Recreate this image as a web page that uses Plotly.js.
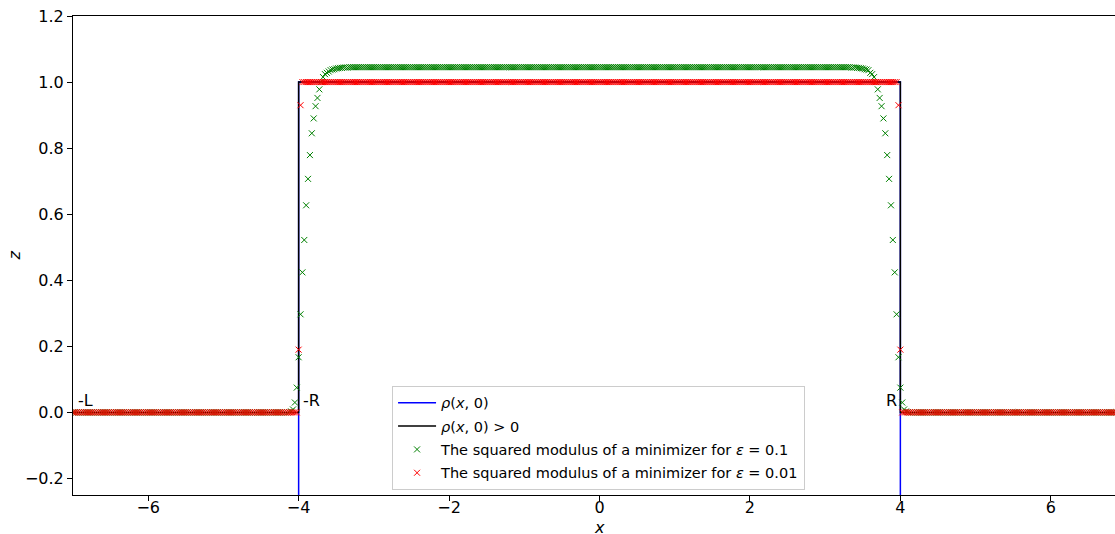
<!DOCTYPE html>
<html>
<head>
<meta charset="utf-8">
<script src="https://cdn.plot.ly/plotly-3.0.1.min.js"></script>
<style>
html, body { margin: 0; padding: 0; overflow: hidden; background: #ffffff; }
#chart { width: 1160px; height: 534px; }
</style>
</head>
<body>
<div id="chart"></div>
<script>
// x grid of the computed minimizers
const xGrid = [
-7,-6.975,-6.95,-6.925,-6.9,-6.875,-6.85,-6.825,
-6.8,-6.775,-6.75,-6.725,-6.7,-6.675,-6.65,-6.625,
-6.6,-6.575,-6.55,-6.525,-6.5,-6.475,-6.45,-6.425,
-6.4,-6.375,-6.35,-6.325,-6.3,-6.275,-6.25,-6.225,
-6.2,-6.175,-6.15,-6.125,-6.1,-6.075,-6.05,-6.025,
-6,-5.975,-5.95,-5.925,-5.9,-5.875,-5.85,-5.825,
-5.8,-5.775,-5.75,-5.725,-5.7,-5.675,-5.65,-5.625,
-5.6,-5.575,-5.55,-5.525,-5.5,-5.475,-5.45,-5.425,
-5.4,-5.375,-5.35,-5.325,-5.3,-5.275,-5.25,-5.225,
-5.2,-5.175,-5.15,-5.125,-5.1,-5.075,-5.05,-5.025,
-5,-4.975,-4.95,-4.925,-4.9,-4.875,-4.85,-4.825,
-4.8,-4.775,-4.75,-4.725,-4.7,-4.675,-4.65,-4.625,
-4.6,-4.575,-4.55,-4.525,-4.5,-4.475,-4.45,-4.425,
-4.4,-4.375,-4.35,-4.325,-4.3,-4.275,-4.25,-4.225,
-4.2,-4.175,-4.15,-4.125,-4.1,-4.075,-4.05,-4.025,
-4,-3.975,-3.95,-3.925,-3.9,-3.875,-3.85,-3.825,
-3.8,-3.775,-3.75,-3.725,-3.7,-3.675,-3.65,-3.625,
-3.6,-3.575,-3.55,-3.525,-3.5,-3.475,-3.45,-3.425,
-3.4,-3.375,-3.35,-3.325,-3.3,-3.275,-3.25,-3.225,
-3.2,-3.175,-3.15,-3.125,-3.1,-3.075,-3.05,-3.025,
-3,-2.975,-2.95,-2.925,-2.9,-2.875,-2.85,-2.825,
-2.8,-2.775,-2.75,-2.725,-2.7,-2.675,-2.65,-2.625,
-2.6,-2.575,-2.55,-2.525,-2.5,-2.475,-2.45,-2.425,
-2.4,-2.375,-2.35,-2.325,-2.3,-2.275,-2.25,-2.225,
-2.2,-2.175,-2.15,-2.125,-2.1,-2.075,-2.05,-2.025,
-2,-1.975,-1.95,-1.925,-1.9,-1.875,-1.85,-1.825,
-1.8,-1.775,-1.75,-1.725,-1.7,-1.675,-1.65,-1.625,
-1.6,-1.575,-1.55,-1.525,-1.5,-1.475,-1.45,-1.425,
-1.4,-1.375,-1.35,-1.325,-1.3,-1.275,-1.25,-1.225,
-1.2,-1.175,-1.15,-1.125,-1.1,-1.075,-1.05,-1.025,
-1,-0.975,-0.95,-0.925,-0.9,-0.875,-0.85,-0.825,
-0.8,-0.775,-0.75,-0.725,-0.7,-0.675,-0.65,-0.625,
-0.6,-0.575,-0.55,-0.525,-0.5,-0.475,-0.45,-0.425,
-0.4,-0.375,-0.35,-0.325,-0.3,-0.275,-0.25,-0.225,
-0.2,-0.175,-0.15,-0.125,-0.1,-0.075,-0.05,-0.025,
0,0.025,0.05,0.075,0.1,0.125,0.15,0.175,
0.2,0.225,0.25,0.275,0.3,0.325,0.35,0.375,
0.4,0.425,0.45,0.475,0.5,0.525,0.55,0.575,
0.6,0.625,0.65,0.675,0.7,0.725,0.75,0.775,
0.8,0.825,0.85,0.875,0.9,0.925,0.95,0.975,
1,1.025,1.05,1.075,1.1,1.125,1.15,1.175,
1.2,1.225,1.25,1.275,1.3,1.325,1.35,1.375,
1.4,1.425,1.45,1.475,1.5,1.525,1.55,1.575,
1.6,1.625,1.65,1.675,1.7,1.725,1.75,1.775,
1.8,1.825,1.85,1.875,1.9,1.925,1.95,1.975,
2,2.025,2.05,2.075,2.1,2.125,2.15,2.175,
2.2,2.225,2.25,2.275,2.3,2.325,2.35,2.375,
2.4,2.425,2.45,2.475,2.5,2.525,2.55,2.575,
2.6,2.625,2.65,2.675,2.7,2.725,2.75,2.775,
2.8,2.825,2.85,2.875,2.9,2.925,2.95,2.975,
3,3.025,3.05,3.075,3.1,3.125,3.15,3.175,
3.2,3.225,3.25,3.275,3.3,3.325,3.35,3.375,
3.4,3.425,3.45,3.475,3.5,3.525,3.55,3.575,
3.6,3.625,3.65,3.675,3.7,3.725,3.75,3.775,
3.8,3.825,3.85,3.875,3.9,3.925,3.95,3.975,
4,4.025,4.05,4.075,4.1,4.125,4.15,4.175,
4.2,4.225,4.25,4.275,4.3,4.325,4.35,4.375,
4.4,4.425,4.45,4.475,4.5,4.525,4.55,4.575,
4.6,4.625,4.65,4.675,4.7,4.725,4.75,4.775,
4.8,4.825,4.85,4.875,4.9,4.925,4.95,4.975,
5,5.025,5.05,5.075,5.1,5.125,5.15,5.175,
5.2,5.225,5.25,5.275,5.3,5.325,5.35,5.375,
5.4,5.425,5.45,5.475,5.5,5.525,5.55,5.575,
5.6,5.625,5.65,5.675,5.7,5.725,5.75,5.775,
5.8,5.825,5.85,5.875,5.9,5.925,5.95,5.975,
6,6.025,6.05,6.075,6.1,6.125,6.15,6.175,
6.2,6.225,6.25,6.275,6.3,6.325,6.35,6.375,
6.4,6.425,6.45,6.475,6.5,6.525,6.55,6.575,
6.6,6.625,6.65,6.675,6.7,6.725,6.75,6.775,
6.8,6.825,6.85,6.875,6.9,6.925,6.95,6.975,
7
];

// squared modulus of a minimizer, epsilon = 0.1 (green)
const modEps01 = [
0,0,0,0,0,0,0,0, 0,0,0,0,0,0,0,0, 0,0,0,0,0,0,0,0, 0,0,0,0,0,0,0,0, 0,0,0,0,0,0,0,0,
0,0,0,0,0,0,0,0, 0,0,0,0,0,0,0,0, 0,0,0,0,0,0,0,0, 0,0,0,0,0,0,0,0, 0,0,0,0,0,0,0,0,
0,0,0,0,0,0,0,0, 0,0,0,0,0,0,0,0, 0,0,0,0,0,0,0,0, 0,0,0,0,0,0,0,0,
0,0,0,0.001,0.003,0.009,0.030,0.075,
0.167,0.297,0.424,0.522,0.627,0.707,0.779,0.845,
0.890,0.927,0.952,0.978,1.000,1.015,1.024,1.028,
1.032,1.036,1.038,1.039,1.041,1.042,1.043,1.043,
1.044,1.044,1.044,1.045,1.045,1.045,1.045,1.045,
1.045,1.045,1.045,1.045,1.045,1.045,1.045,1.045, 1.045,1.045,1.045,1.045,1.045,1.045,1.045,1.045,
1.045,1.045,1.045,1.045,1.045,1.045,1.045,1.045, 1.045,1.045,1.045,1.045,1.045,1.045,1.045,1.045,
1.045,1.045,1.045,1.045,1.045,1.045,1.045,1.045, 1.045,1.045,1.045,1.045,1.045,1.045,1.045,1.045,
1.045,1.045,1.045,1.045,1.045,1.045,1.045,1.045, 1.045,1.045,1.045,1.045,1.045,1.045,1.045,1.045,
1.045,1.045,1.045,1.045,1.045,1.045,1.045,1.045, 1.045,1.045,1.045,1.045,1.045,1.045,1.045,1.045,
1.045,1.045,1.045,1.045,1.045,1.045,1.045,1.045, 1.045,1.045,1.045,1.045,1.045,1.045,1.045,1.045,
1.045,1.045,1.045,1.045,1.045,1.045,1.045,1.045, 1.045,1.045,1.045,1.045,1.045,1.045,1.045,1.045,
1.045,1.045,1.045,1.045,1.045,1.045,1.045,1.045, 1.045,1.045,1.045,1.045,1.045,1.045,1.045,1.045,
1.045,1.045,1.045,1.045,1.045,1.045,1.045,1.045, 1.045,1.045,1.045,1.045,1.045,1.045,1.045,1.045,
1.045,1.045,1.045,1.045,1.045,1.045,1.045,1.045, 1.045,1.045,1.045,1.045,1.045,1.045,1.045,1.045,
1.045,1.045,1.045,1.045,1.045,1.045,1.045,1.045, 1.045,1.045,1.045,1.045,1.045,1.045,1.045,1.045,
1.045,1.045,1.045,1.045,1.045,1.045,1.045,1.045, 1.045,1.045,1.045,1.045,1.045,1.045,1.045,1.045,
1.045,1.045,1.045,1.045,1.045,1.045,1.045,1.045, 1.045,1.045,1.045,1.045,1.045,1.045,1.045,1.045,
1.045,1.045,1.045,1.045,1.045,1.045,1.045,1.045, 1.045,1.045,1.045,1.045,1.045,1.045,1.045,1.045,
1.045,1.045,1.045,1.045,1.045,1.045,1.045,1.045, 1.045,1.045,1.045,1.045,1.045,1.045,1.045,1.045,
1.045,1.045,1.045,1.045,1.045,1.045,1.045,1.045, 1.045,1.045,1.045,1.045,1.045,1.045,1.045,1.045,
1.045,1.045,1.045,1.045,1.045,1.045,1.044,1.044,
1.044,1.043,1.043,1.042,1.041,1.039,1.038,1.036,
1.028,1.024,1.015,1.000,0.978,0.952,0.927,0.890,
0.845,0.779,0.707,0.627,0.522,0.424,0.297,0.167,
0.075,0.030,0.009,0.003,0.001,0,0,0,
0,0,0,0,0,0,0,0, 0,0,0,0,0,0,0,0, 0,0,0,0,0,0,0,0, 0,0,0,0,0,0,0,0,
0,0,0,0,0,0,0,0, 0,0,0,0,0,0,0,0, 0,0,0,0,0,0,0,0, 0,0,0,0,0,0,0,0,
0,0,0,0,0,0,0,0, 0,0,0,0,0,0,0,0, 0,0,0,0,0,0,0,0, 0,0,0,0,0,0,0,0,
0,0,0,0,0,0,0,0, 0,0,0,0,0,0,0,0,
0
];

// squared modulus of a minimizer, epsilon = 0.01 (red)
const modEps001 = [
0,0,0,0,0,0,0,0, 0,0,0,0,0,0,0,0, 0,0,0,0,0,0,0,0, 0,0,0,0,0,0,0,0, 0,0,0,0,0,0,0,0,
0,0,0,0,0,0,0,0, 0,0,0,0,0,0,0,0, 0,0,0,0,0,0,0,0, 0,0,0,0,0,0,0,0, 0,0,0,0,0,0,0,0,
0,0,0,0,0,0,0,0, 0,0,0,0,0,0,0,0, 0,0,0,0,0,0,0,0, 0,0,0,0,0,0,0,0, 0,0,0,0,0,0,0,0,
0.19,0.93,1,1,1,1,1,1,
1,1,1,1,1,1,1,1, 1,1,1,1,1,1,1,1, 1,1,1,1,1,1,1,1, 1,1,1,1,1,1,1,1,
1,1,1,1,1,1,1,1, 1,1,1,1,1,1,1,1, 1,1,1,1,1,1,1,1, 1,1,1,1,1,1,1,1,
1,1,1,1,1,1,1,1, 1,1,1,1,1,1,1,1, 1,1,1,1,1,1,1,1, 1,1,1,1,1,1,1,1,
1,1,1,1,1,1,1,1, 1,1,1,1,1,1,1,1, 1,1,1,1,1,1,1,1, 1,1,1,1,1,1,1,1,
1,1,1,1,1,1,1,1, 1,1,1,1,1,1,1,1, 1,1,1,1,1,1,1,1, 1,1,1,1,1,1,1,1,
1,1,1,1,1,1,1,1, 1,1,1,1,1,1,1,1, 1,1,1,1,1,1,1,1, 1,1,1,1,1,1,1,1,
1,1,1,1,1,1,1,1, 1,1,1,1,1,1,1,1, 1,1,1,1,1,1,1,1, 1,1,1,1,1,1,1,1,
1,1,1,1,1,1,1,1, 1,1,1,1,1,1,1,1, 1,1,1,1,1,1,1,1, 1,1,1,1,1,1,1,1,
1,1,1,1,1,1,1,1, 1,1,1,1,1,1,1,1, 1,1,1,1,1,1,1,1, 1,1,1,1,1,1,1,1,
1,1,1,1,1,1,1,1, 1,1,1,1,1,1,1,1,
1,1,1,1,1,1,1,0.93,
0.19,0,0,0,0,0,0,0,
0,0,0,0,0,0,0,0, 0,0,0,0,0,0,0,0, 0,0,0,0,0,0,0,0, 0,0,0,0,0,0,0,0,
0,0,0,0,0,0,0,0, 0,0,0,0,0,0,0,0, 0,0,0,0,0,0,0,0, 0,0,0,0,0,0,0,0,
0,0,0,0,0,0,0,0, 0,0,0,0,0,0,0,0, 0,0,0,0,0,0,0,0, 0,0,0,0,0,0,0,0,
0,0,0,0,0,0,0,0, 0,0,0,0,0,0,0,0,
0
];

// initial profile rho(x,0) and its positive part
const rhoX = [-7, -4, -4, 4, 4, 7];
const rhoY = [-1, -1, 1, 1, -1, -1];
const rhoPosX = [-7, -4, -4, 4, 4, 7];
const rhoPosY = [0, 0, 1, 1, 0, 0];

const xTicks = [-6, -4, -2, 0, 2, 4, 6];
const yTicks = [-0.2, 0, 0.2, 0.4, 0.6, 0.8, 1.0, 1.2];
const pointLabels = ['-L', '-R', 'R', 'L'];
const pointLabelX = [-6.965, -3.965, 3.78, 6.81];
const xTitle = '<i>x</i>';
const yTitle = '<i>z</i>';

const FONT = 'DejaVu Sans, Verdana, sans-serif';

const traces = [
  { x: rhoX, y: rhoY, type: 'scatter', mode: 'lines', name: '<i>ρ</i>(<i>x</i>, 0)',
    legendgroup: 'g1', line: { color: '#0000ff', width: 1.5 }, hoverinfo: 'skip' },
  { x: rhoPosX, y: rhoPosY, type: 'scatter', mode: 'lines', name: '<i>ρ</i>(<i>x</i>, 0) > 0',
    legendgroup: 'g2', line: { color: '#000000', width: 1.5 }, hoverinfo: 'skip' },
  { x: xGrid, y: modEps01, type: 'scatter', mode: 'markers', legendgroup: 'g3',
    name: 'The squared modulus of a minimizer for <i>ε</i> = 0.1',
    marker: { symbol: 'x-thin', size: 6, line: { color: '#008000', width: 1 }, color: '#008000' } },
  { x: xGrid, y: modEps001, type: 'scatter', mode: 'markers', legendgroup: 'g4',
    name: 'The squared modulus of a minimizer for <i>ε</i> = 0.01',
    marker: { symbol: 'x-thin', size: 6, line: { color: '#ff0000', width: 1 }, color: '#ff0000' } }
];

const annotations = pointLabels.map((t, i) => ({
  x: pointLabelX[i], y: 0, xref: 'x', yref: 'y', text: t, showarrow: false,
  xanchor: 'left', yanchor: 'bottom', font: { family: FONT, size: 16, color: '#000' }
}));
// axis titles placed as in the reference figure
annotations.push({
  x: 0.5, y: -0.0668, xref: 'paper', yref: 'paper', text: xTitle, showarrow: false,
  borderpad: 0, height: 14, valign: 'middle',
  xanchor: 'center', yanchor: 'middle', font: { family: FONT, size: 16, color: '#000' }
});
annotations.push({
  x: -0.0551, y: 0.5, xref: 'paper', yref: 'paper', text: yTitle, showarrow: false, textangle: -90,
  xanchor: 'center', yanchor: 'middle', font: { family: FONT, size: 16, color: '#000' }
});

const layout = {
  width: 1160, height: 534,
  margin: { l: 73, r: 34, t: 16, b: 39 },
  paper_bgcolor: '#ffffff', plot_bgcolor: '#ffffff',
  font: { family: FONT, size: 16, color: '#000' },
  showlegend: true,
  legend: {
    x: 0.303, y: 0.228, xanchor: 'left', yanchor: 'top', itemwidth: 38,
    traceorder: 'grouped', tracegroupgap: 1.5,
    bgcolor: 'rgba(255,255,255,0.8)', bordercolor: '#cccccc', borderwidth: 1,
    font: { family: FONT, size: 14.5, color: '#000' }
  },
  xaxis: {
    range: [-7, 7], tickvals: xTicks, ticks: 'outside', ticklen: 5, tickwidth: 1, tickcolor: '#000',
    ticklabelstandoff: -7,
    showline: true, mirror: true, linecolor: '#000', linewidth: 1,
    showgrid: false, zeroline: false, tickfont: { family: FONT, size: 16, color: '#000' }
  },
  yaxis: {
    range: [-0.25, 1.2], tickvals: yTicks, tickformat: '.1f', ticks: 'outside', ticklen: 5, tickwidth: 1, tickcolor: '#000',
    showline: true, mirror: true, linecolor: '#000', linewidth: 1,
    showgrid: false, zeroline: false, tickfont: { family: FONT, size: 16, color: '#000' }
  },
  annotations: annotations
};

Plotly.newPlot('chart', traces, layout, { displayModeBar: false, staticPlot: true });
</script>
</body>
</html>
